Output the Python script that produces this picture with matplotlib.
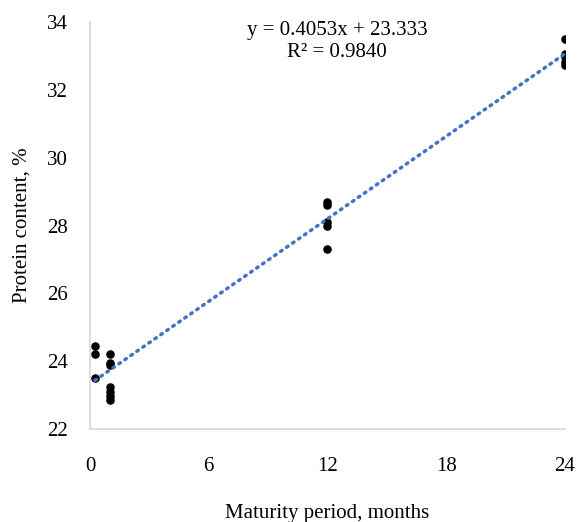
import matplotlib
matplotlib.use("Agg")
import matplotlib.pyplot as plt
import numpy as np

plt.rcParams['font.family'] = ['Liberation Serif', 'DejaVu Serif']

# Data
x_vals = [0.25, 0.25, 0.25,
          1, 1, 1, 1, 1, 1, 1,
          12, 12, 12, 12, 12,
          24, 24, 24, 24, 24]
y_vals = [24.44, 24.21, 23.50,
          24.21, 23.94, 23.88, 23.24, 23.09, 22.97, 22.85,
          28.68, 28.59, 28.09, 28.00, 27.32,
          33.50, 33.06, 32.97, 32.82, 32.74]
slope = 0.4053
intercept = 23.333
eq_text = "y = 0.4053x + 23.333"
r2_text = "R² = 0.9840"
x_ticks = [0, 6, 12, 18, 24]
y_ticks = [22, 24, 26, 28, 30, 32, 34]

fig = plt.figure(figsize=(5.77, 5.22), dpi=100)
ax = fig.add_axes([0.156, 0.178, 0.823, 0.780])

ax.scatter(x_vals, y_vals, s=38, color='black', zorder=3, linewidths=0)
xl = np.array([min(x_vals), max(x_vals)])
ax.plot(xl, slope * xl + intercept, color='#4472C4', lw=2.5,
        linestyle=(0, (0.5, 1.6)), dash_capstyle='round', zorder=4)

ax.set_xlim(0, 24)
ax.set_ylim(22, 34)
ax.set_xticks(x_ticks)
ax.set_yticks(y_ticks)
ax.tick_params(length=0, labelsize=15)
ax.tick_params(axis='y', pad=16)
ax.tick_params(axis='x', pad=20)
for s in ['top', 'right']:
    ax.spines[s].set_visible(False)
for s in ['left', 'bottom']:
    ax.spines[s].set_color('#d9d9d9')
    ax.spines[s].set_linewidth(1.2)

ax.set_xlabel('Maturity period, months', fontsize=15, labelpad=20)
ax.set_ylabel('Protein content, %', fontsize=15, labelpad=11)

ax.text(0.52, 0.98, eq_text, transform=ax.transAxes, ha='center', va='center', fontsize=15)
ax.text(0.52, 0.925, r2_text, transform=ax.transAxes, ha='center', va='center', fontsize=15)

fig.savefig('out.png', dpi=100)
